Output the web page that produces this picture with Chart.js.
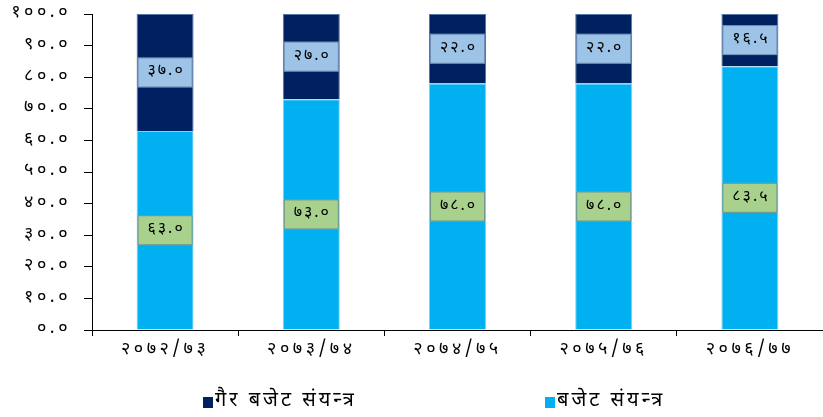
<!DOCTYPE html>
<html>
<head>
<meta charset="utf-8">
<script src="https://cdn.jsdelivr.net/npm/chart.js@4.4.1/dist/chart.umd.min.js"></script>
<style>
  html, body { margin: 0; padding: 0; background: #fff; }
  #wrap { width: 823px; height: 417px; }
</style>
</head>
<body>
<div id="wrap"><canvas id="budget_chart"></canvas></div>
<script>
const categories = ["२०७२/७३", "२०७३/७४", "२०७४/७५", "२०७५/७६", "२०७६/७७"];
const budget_values = [63.0, 73.0, 78.0, 78.0, 83.5];
const non_budget_values = [37.0, 27.0, 22.0, 22.0, 16.5];
const series_names = ["बजेट संयन्त्र", "गैर बजेट संयन्त्र"];
const series_colors = ["#00b0f0", "#002060"];
const label_box_colors = ["#a9d18e", "#9dc3e6"];

const font_family = "'Noto Sans Devanagari', 'Lohit Devanagari', Mangal, 'Noto Sans', sans-serif";
const nepali_digits = "०१२३४५६७८९";

function to_nepali(str) {
  return String(str).replace(/[0-9]/g, d => nepali_digits[d]);
}

// reference font is a lot wider, spread the letters a bit
const wide_text = {
  id: "wide_text",
  beforeLayout(chart) { chart.ctx.letterSpacing = "3.5px"; },
  beforeDraw(chart) { chart.ctx.letterSpacing = "3.5px"; }
};

// value boxes in the middle of each segment
const segment_labels = {
  id: "segment_labels",
  afterDatasetsDraw(chart) {
    const ctx = chart.ctx;
    ctx.save();
    ctx.letterSpacing = "2px";
    ctx.font = "16px " + font_family;
    ctx.textAlign = "center";
    ctx.textBaseline = "middle";
    chart.data.datasets.forEach((ds, i) => {
      const meta = chart.getDatasetMeta(i);
      meta.data.forEach((bar, j) => {
        const p = bar.getCenterPoint();
        const w = 55, h = 30;
        ctx.fillStyle = label_box_colors[i];
        ctx.fillRect(p.x - w / 2, p.y - h / 2, w, h);
        ctx.strokeStyle = "rgba(60,90,140,0.5)";
        ctx.lineWidth = 1;
        ctx.strokeRect(p.x - w / 2 + 0.5, p.y - h / 2 + 0.5, w - 1, h - 1);
        ctx.fillStyle = "#000";
        ctx.fillText(to_nepali(ds.data[j].toFixed(1)), p.x + 1, p.y);
      });
    });
    ctx.restore();
  }
};

// legend drawn by hand: dark series first, spread wide
const bottom_legend = {
  id: "bottom_legend",
  afterDraw(chart) {
    const ctx = chart.ctx;
    const spots = [{ ds: 1, x: 203 }, { ds: 0, x: 545 }];
    ctx.save();
    ctx.letterSpacing = "3px";
    ctx.font = "20px " + font_family;
    ctx.textBaseline = "middle";
    ctx.textAlign = "left";
    spots.forEach(s => {
      const y = 402;
      ctx.fillStyle = chart.data.datasets[s.ds].backgroundColor;
      ctx.fillRect(s.x, y - 5, 10, 11);
      ctx.fillStyle = "#000";
      ctx.fillText(chart.data.datasets[s.ds].label, s.x + 12, y);
    });
    ctx.restore();
  }
};

new Chart(document.getElementById("budget_chart"), {
  type: "bar",
  data: {
    labels: categories,
    datasets: [
      {
        label: series_names[0],
        data: budget_values,
        backgroundColor: series_colors[0],
        borderColor: "#7fd3f3",
        borderWidth: 1,
        barPercentage: 0.39,
        categoryPercentage: 1
      },
      {
        label: series_names[1],
        data: non_budget_values,
        backgroundColor: series_colors[1],
        borderColor: "#5a76a8",
        borderWidth: 1,
        barPercentage: 0.39,
        categoryPercentage: 1
      }
    ]
  },
  plugins: [wide_text, segment_labels, bottom_legend],
  options: {
    responsive: true,
    maintainAspectRatio: false,
    animation: false,
    events: [],
    layout: { padding: { top: 14, left: 0, right: 0, bottom: 0 } },
    plugins: {
      legend: { display: false },
      tooltip: { enabled: false }
    },
    scales: {
      x: {
        stacked: true,
        afterFit: scale => { scale.height = 87; },
        border: { display: true, color: "#000", width: 1 },
        grid: { display: true, drawOnChartArea: false, drawTicks: true, tickLength: 6, color: "#000", offset: true },
        ticks: { color: "#000", font: { family: font_family, size: 18 }, padding: 4, maxRotation: 0 }
      },
      y: {
        stacked: true,
        min: 0,
        max: 100,
        afterFit: scale => {
          scale.width = 92;
          scale.paddingTop = 0;
          scale.paddingBottom = 0;
        },
        border: { display: true, color: "#000", width: 1 },
        grid: { display: true, drawOnChartArea: false, drawTicks: true, tickLength: 8, color: "#000" },
        ticks: {
          stepSize: 10,
          color: "#000",
          padding: 13,
          font: { family: font_family, size: 18 },
          callback: v => to_nepali(Number(v).toFixed(1))
        }
      }
    }
  }
});
</script>
</body>
</html>
